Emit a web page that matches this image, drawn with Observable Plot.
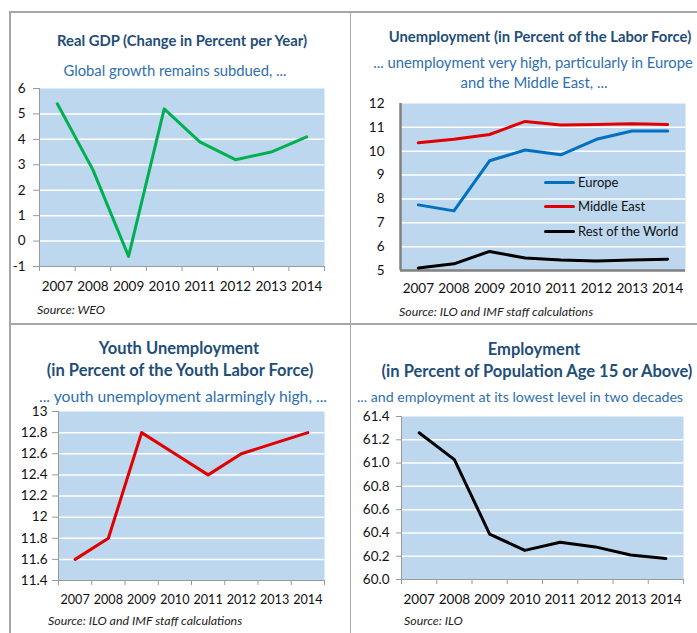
<!DOCTYPE html>
<html>
<head>
<meta charset="utf-8">
<script src="https://cdn.jsdelivr.net/npm/d3@7"></script>
<script src="https://cdn.jsdelivr.net/npm/@observablehq/plot@0.6"></script>
<style>
  html, body { margin: 0; padding: 0; background: #fff; }
  #root { position: relative; width: 697px; height: 633px; overflow: hidden; background: #fff; font-family: Lato, "Open Sans", sans-serif; }
  .abs { position: absolute; white-space: nowrap; }
  .ctr { transform: translate(-50%, -50%); }
  .vc { transform: translateY(-50%); }
  .title { font-weight: bold; color: #1f4e79; font-size: 14.8px; }
  .title.big { font-size: 16.5px; }
  .sub { color: #2e6fb0; font-size: 14.8px; }
  .sub.big { font-size: 15.7px; }
  .sub.fit { font-size: 14.2px; }
  .src { font-style: italic; color: #222; font-size: 12.4px; }
  .leg { font-size: 13px; color: #111; }
  .rule { position: absolute; background: #a6a6a6; }
</style>
</head>
<body>
<div id="root"></div>
<script>
// ---------------- data ----------------
const years = [2007, 2008, 2009, 2010, 2011, 2012, 2013, 2014];

const gdpGrowth = [5.4, 2.8, -0.6, 5.2, 3.9, 3.2, 3.5, 4.1];

const unempEurope = [7.75, 7.5, 9.6, 10.05, 9.85, 10.5, 10.85, 10.85];
const unempMiddleEast = [10.35, 10.5, 10.7, 11.25, 11.1, 11.12, 11.15, 11.12];
const unempRestOfWorld = [5.1, 5.28, 5.8, 5.52, 5.44, 5.4, 5.44, 5.47];
const unempSeries = ["Europe", "Middle East", "Rest of the World"];

const youthUnemp = [11.6, 11.8, 12.8, 12.6, 12.4, 12.6, 12.7, 12.8];

const employment = [61.26, 61.03, 60.39, 60.25, 60.32, 60.28, 60.21, 60.18];

const gdpTicks = [-1, 0, 1, 2, 3, 4, 5, 6];
const unempTicks = [5, 6, 7, 8, 9, 10, 11, 12];
const youthTicks = [11.4, 11.6, 11.8, 12, 12.2, 12.4, 12.6, 12.8, 13];
const employmentTicks = [60.0, 60.2, 60.4, 60.6, 60.8, 61.0, 61.2, 61.4];

// ---------------- helpers ----------------
const root = document.getElementById("root");
const bgFill = "#bdd7ee";
const boundaries = years.map(y => y - 0.5).concat([years[years.length - 1] + 0.5]);

function addText(cls, text, x, y, mode) {
  const d = document.createElement("div");
  d.className = "abs " + cls + " " + (mode || "ctr");
  d.textContent = text;
  d.style.left = x + "px";
  d.style.top = y + "px";
  root.appendChild(d);
  return d;
}

function place(svg, left, top) {
  svg.style.position = "absolute";
  svg.style.left = left + "px";
  svg.style.top = top + "px";
  root.appendChild(svg);
}

function panel(o) {
  const yDom = [o.yTicks[0], o.yTicks[o.yTicks.length - 1]];
  const gridTicks = o.yTicks.slice(1, -1);
  const marks = [
    Plot.frame({fill: bgFill, stroke: "none"}),
    Plot.ruleY(gridTicks, {stroke: "#ffffff", strokeWidth: 1.5}),
    Plot.axisY({ticks: o.yTicks, tickFormat: o.yFormat, tickSize: o.yTickSize, tickPadding: o.yTickPadding, stroke: "#9a9a9a", label: null, fill: "#111"}),
    Plot.axisX({ticks: years, tickFormat: d => String(d), tickSize: 0, tickPadding: o.xTickPadding, label: null, fill: "#111", fontSize: o.xFontSize}),
  ];
  if (o.xTickSize) {
    marks.push(Plot.axisX({ticks: boundaries, tickFormat: () => "", tickSize: o.xTickSize, stroke: "#9a9a9a", label: null}));
  }
  marks.push(Plot.ruleX([boundaries[0]], {stroke: o.axisColor, strokeWidth: o.axisWidth}));
  marks.push(Plot.ruleY([yDom[0]], {stroke: o.axisColor, strokeWidth: o.axisWidth}));
  for (const s of o.series) {
    const rows = years.map((yr, i) => ({year: yr, value: s.values[i]}));
    marks.push(Plot.line(rows, {x: "year", y: "value", stroke: s.color, strokeWidth: 3, strokeLinejoin: "round", strokeLinecap: "round"}));
  }
  return Plot.plot({
    width: o.width,
    height: o.height,
    marginLeft: o.plotLeft - o.left,
    marginRight: o.left + o.width - o.plotRight,
    marginTop: o.plotTop - o.top,
    marginBottom: o.top + o.height - o.plotBottom,
    x: {type: "linear", domain: [boundaries[0], boundaries[boundaries.length - 1]]},
    y: {type: "linear", domain: yDom},
    style: {fontFamily: "Lato, 'Open Sans', sans-serif", fontSize: "13.5px", background: "transparent", overflow: "visible", color: "#111"},
    marks
  });
}

// ---------------- frame rules ----------------
[["9px", "11px", "688px", "1.5px"], ["9px", "323px", "688px", "1.5px"],
 ["9px", "11px", "1.5px", "622px"], ["349.5px", "11px", "1.5px", "622px"]].forEach(([l, t, w, h]) => {
  const d = document.createElement("div");
  d.className = "rule";
  Object.assign(d.style, {left: l, top: t, width: w, height: h});
  root.appendChild(d);
});

// ---------------- panel 1: Real GDP ----------------
addText("title", "Real GDP (Change in Percent per Year)", 182, 40);
addText("sub", "Global growth remains subdued, ...", 175, 70);
place(panel({
  left: 0, top: 80, width: 345, height: 220,
  plotLeft: 39, plotRight: 324, plotTop: 88, plotBottom: 266,
  yTicks: gdpTicks, yFormat: d => String(d), yTickSize: 6, yTickPadding: 8,
  xTickPadding: 15, xTickSize: 5, xFontSize: 13.5, axisColor: "#9a9a9a", axisWidth: 1,
  series: [{values: gdpGrowth, color: "#00b050"}]
}), 0, 80);
addText("src", "Source: WEO", 37, 309, "vc");

// ---------------- panel 2: Unemployment ----------------
addText("title", "Unemployment (in Percent of the Labor Force)", 540, 36);
addText("sub", "... unemployment very high, particularly in Europe", 533, 62);
addText("sub", "and the Middle East, ...", 534, 82);
const unempColors = ["#0070c0", "#e00000", "#000000"];
place(panel({
  left: 352, top: 95, width: 345, height: 210,
  plotLeft: 400, plotRight: 685, plotTop: 103, plotBottom: 270,
  yTicks: unempTicks, yFormat: d => String(d), yTickSize: 0, yTickPadding: 16,
  xTickPadding: 13, xTickSize: 0, xFontSize: 13.5, axisColor: "#808080", axisWidth: 2.5,
  series: [
    {values: unempEurope, color: unempColors[0]},
    {values: unempMiddleEast, color: unempColors[1]},
    {values: unempRestOfWorld, color: unempColors[2]}
  ]
}), 352, 95);
addText("src", "Source: ILO and IMF staff calculations", 399, 311, "vc");
// legend
const legY = [182, 206, 231];
unempSeries.forEach((name, i) => {
  const sw = document.createElement("div");
  sw.className = "abs";
  Object.assign(sw.style, {left: "544px", top: (legY[i] - 1.5) + "px", width: "31px", height: "3px", background: unempColors[i], borderRadius: "1.5px"});
  root.appendChild(sw);
  addText("leg", name, 578, legY[i], "vc");
});

// ---------------- panel 3: Youth Unemployment ----------------
addText("title big", "Youth Unemployment", 179, 348);
addText("title big", "(in Percent of the Youth Labor Force)", 180, 370);
addText("sub big", "... youth unemployment alarmingly high, ...", 183, 396);
place(panel({
  left: 0, top: 400, width: 345, height: 215,
  plotLeft: 58, plotRight: 324, plotTop: 411, plotBottom: 580,
  yTicks: youthTicks, yFormat: d => String(+d.toFixed(1)), yTickSize: 6, yTickPadding: 5,
  xTickPadding: 15, xTickSize: 5, xFontSize: 12.6, axisColor: "#9a9a9a", axisWidth: 1,
  series: [{values: youthUnemp, color: "#e00000"}]
}), 0, 400);
addText("src", "Source: ILO and IMF staff calculations", 48, 620, "vc");

// ---------------- panel 4: Employment ----------------
addText("title big", "Employment", 534, 349);
addText("title big", "(in Percent of Population Age 15 or Above)", 537, 371);
addText("sub fit", "... and employment at its lowest level in two decades", 357, 396, "vc");
place(panel({
  left: 352, top: 405, width: 345, height: 210,
  plotLeft: 401, plotRight: 683, plotTop: 416, plotBottom: 579,
  yTicks: employmentTicks, yFormat: d => d.toFixed(1), yTickSize: 5, yTickPadding: 7,
  xTickPadding: 15, xTickSize: 5, xFontSize: 13.5, axisColor: "#9a9a9a", axisWidth: 1,
  series: [{values: employment, color: "#000000"}]
}), 352, 405);
addText("src", "Source: ILO", 404, 620, "vc");
</script>
</body>
</html>
